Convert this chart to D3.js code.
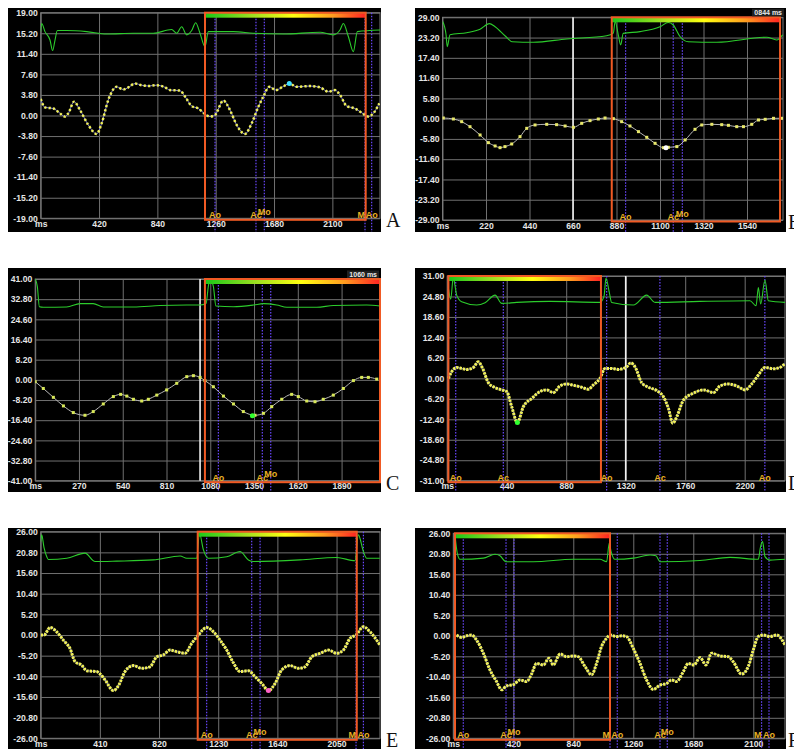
<!DOCTYPE html>
<html>
<head>
<meta charset="utf-8">
<script src="https://cdn.jsdelivr.net/npm/d3@7"></script>
<style>
  body { margin: 0; background: #fff; }
  svg text { font-family: "Liberation Sans", Arial, sans-serif; }
</style>
</head>
<body>
<svg id="fig" width="794" height="749"></svg>
<script>
// 1: DATA
// tick labels
const aYTicks = [19, 15.2, 11.4, 7.6, 3.8, 0, -3.8, -7.6, -11.4, -15.2, -19];
const bYTicks = [29, 23.2, 17.4, 11.6, 5.8, 0, -5.8, -11.6, -17.4, -23.2, -29];
const cYTicks = [41, 32.8, 24.6, 16.4, 8.2, 0, -8.2, -16.4, -24.6, -32.8, -41];
const dYTicks = [31, 24.8, 18.6, 12.4, 6.2, 0, -6.2, -12.4, -18.6, -24.8, -31];
const eYTicks = [26, 20.8, 15.6, 10.4, 5.2, 0, -5.2, -10.4, -15.6, -20.8, -26];
const fYTicks = [26, 20.8, 15.6, 10.4, 5.2, 0, -5.2, -10.4, -15.6, -20.8, -26];

const aXTicks = [0, 420, 840, 1260, 1680, 2100];
const bXTicks = [0, 220, 440, 660, 880, 1100, 1320, 1540];
const cXTicks = [0, 270, 540, 810, 1080, 1350, 1620, 1890];
const dXTicks = [0, 440, 880, 1320, 1760, 2200];
const eXTicks = [0, 410, 820, 1230, 1640, 2050];
const fXTicks = [0, 420, 840, 1260, 1680, 2100];

// strain curves [ms, %]
const aStrain = [[0,3.05],[31,1.5],[91,1.3],[139,0.4],[175,-0.2],[199,0.4],[240,2.55],[283,1.0],[343,-1.75],[403,-3.4],[439,-1.45],[487,2.9],[547,5.3],[595,4.8],[631,5.2],[679,5.9],[727,5.6],[775,5.45],[835,5.6],[895,5.2],[931,4.7],[1003,4.6],[1039,3.5],[1087,1.75],[1135,1.3],[1176,0.4],[1219,-0.2],[1255,0.1],[1315,2.75],[1363,1.0],[1411,-1.75],[1471,-3.4],[1519,-1.45],[1567,1.6],[1603,3.5],[1646,5.3],[1694,4.7],[1742,5.3],[1790,5.9],[1843,5.3],[1939,5.45],[2011,5.2],[2071,4.4],[2119,4.7],[2155,3.8],[2203,1.75],[2263,1.3],[2323,0.3],[2359,-0.2],[2395,0.4],[2438,2.25]];
const bStrain = [[4,0.19],[55,-0.1],[97,-0.86],[139,-2.3],[190,-4.67],[232,-6.87],[266,-7.82],[291,-8.3],[316,-8.0],[350,-7.25],[392,-5.15],[426,-2.77],[468,-1.81],[527,-1.62],[577,-1.72],[620,-2.1],[662,-2.48],[704,-1.34],[746,-0.57],[788,-0.1],[822,0.19],[864,0],[906,-0.86],[948,-2.1],[991,-3.72],[1033,-5.34],[1075,-7.06],[1117,-8.3],[1142,-8.2],[1185,-8.0],[1227,-6.1],[1277,-3.05],[1311,-1.81],[1362,-1.62],[1412,-1.72],[1446,-1.91],[1488,-2.29],[1522,-2.29],[1564,-1.62],[1598,-0.38],[1632,-0.19],[1674,0.1],[1718,0.1]];
const cStrain = [[0,-0.75],[50,-3.5],[112,-7.1],[174,-10.6],[235,-13.3],[307,-14.4],[358,-12.9],[420,-9.8],[482,-6.8],[527,-5.9],[565,-6.6],[606,-7.9],[657,-8.6],[698,-7.9],[750,-6.2],[811,-4.1],[873,-1.4],[935,1.3],[976,1.7],[1017,1.0],[1047,-0.3],[1099,-2.8],[1161,-6.6],[1223,-9.8],[1284,-12.9],[1356,-14.4],[1408,-13.6],[1459,-10.9],[1521,-7.9],[1582,-5.9],[1623,-6.8],[1675,-8.6],[1726,-8.9],[1777,-7.9],[1839,-6.2],[1901,-3.5],[1963,-0.3],[2014,1.0],[2055,1.0],[2107,0.3]];
const dStrain = [[9,0],[33,2.0],[70,3.3],[107,3.0],[144,2.7],[193,3.3],[230,5.0],[262,3.0],[304,-1.3],[354,-2.8],[403,-3.5],[440,-4.0],[477,-8.6],[519,-13.4],[563,-8.6],[625,-6.1],[686,-4.0],[736,-3.5],[785,-4.3],[834,-2.3],[884,-1.7],[933,-2.1],[995,-2.7],[1044,-3.3],[1081,-2.0],[1130,0],[1167,3.0],[1217,3.0],[1266,2.7],[1328,3.5],[1357,4.7],[1389,3.5],[1438,-1.3],[1488,-2.7],[1549,-3.7],[1599,-5.6],[1636,-9.1],[1668,-13.6],[1698,-11.6],[1747,-6.6],[1821,-4.5],[1895,-3.5],[1969,-4.3],[2018,-2.3],[2079,-1.7],[2141,-2.3],[2203,-3.5],[2252,-1.7],[2301,1.0],[2350,3.3],[2412,2.9],[2461,3.3],[2498,4.5]];
const eStrain = [[0,0],[23,0],[65,1.9],[111,0.8],[157,-1.3],[203,-3.4],[238,-6.7],[284,-7.6],[319,-9.0],[388,-9.2],[411,-9.8],[446,-11.3],[504,-14.0],[538,-12.8],[584,-9.2],[642,-7.7],[700,-8.4],[758,-8.0],[804,-5.5],[850,-5.0],[896,-3.8],[942,-4.2],[1000,-4.6],[1046,-2.1],[1093,0],[1150,1.9],[1197,0.8],[1243,-1.3],[1289,-3.8],[1335,-7.0],[1381,-9.2],[1439,-9.0],[1485,-10.5],[1532,-12.2],[1578,-14.0],[1624,-12.2],[1670,-8.8],[1728,-7.7],[1786,-8.4],[1832,-8.0],[1878,-5.5],[1936,-4.6],[1994,-3.8],[2051,-4.6],[2097,-3.8],[2144,-0.8],[2185,0],[2236,2.1],[2282,0.8],[2350,-2.5]];
const fStrain = [[23,0.2],[58,-0.4],[93,0],[128,0.2],[163,-1.1],[210,-4.4],[257,-8.7],[303,-11.6],[338,-13.7],[373,-12.7],[420,-12.4],[467,-11.2],[513,-11.6],[548,-9.7],[583,-7.0],[630,-7.4],[670,-5.7],[700,-7.4],[747,-4.6],[793,-5.3],[840,-5.1],[875,-5.3],[922,-7.8],[968,-9.9],[1003,-7.0],[1038,-2.7],[1073,-0.6],[1101,0.2],[1143,-0.2],[1178,0],[1213,-0.2],[1260,-3.2],[1307,-7.0],[1353,-11.2],[1400,-13.6],[1447,-12.5],[1493,-12.1],[1528,-11.2],[1563,-11.6],[1610,-9.1],[1645,-7.0],[1685,-7.4],[1727,-5.5],[1769,-7.4],[1808,-4.4],[1867,-5.1],[1925,-5.3],[1960,-6.6],[2018,-9.7],[2065,-7.8],[2100,-3.6],[2135,-0.2],[2170,0.2],[2217,-0.2],[2263,0.2],[2322,-2.3]];

// ECG traces (drawn on the strain scale, top of each plot)
const aEcg = [[0,15.5],[7,17.0],[31,15.5],[67,13.95],[86,12.0],[103,13.95],[120,15.7],[187,15.7],[331,15.5],[475,15.05],[667,15.2],[811,15.2],[943,15.9],[979,15.2],[1015,16.4],[1051,14.9],[1087,15.7],[1116,17.15],[1147,15.2],[1183,12.7],[1207,15.5],[1387,15.5],[1531,15.2],[1747,15.05],[2011,15.4],[2107,14.9],[2155,15.8],[2179,17.0],[2215,14.6],[2251,11.8],[2280,15.5],[2443,15.8]];
const bEcg = [[1,27.8],[18,24.0],[24,20.6],[38,24.0],[122,24.6],[190,25.6],[237,27.2],[266,26.3],[320,23.5],[353,22.0],[459,21.85],[628,22.8],[830,23.7],[864,24.5],[873,27.8],[889,24.0],[901,21.1],[914,24.4],[999,24.9],[1100,26.3],[1142,27.5],[1167,26.8],[1201,23.5],[1243,22.0],[1387,21.85],[1640,23.3],[1690,22.5],[1720,24.0]];
const cEcg = [[0,41.0],[13,38],[26,29.7],[50,29.5],[194,29.6],[277,31.0],[358,31.0],[420,29.6],[606,29.6],[770,30.2],[935,30.4],[1017,30.4],[1054,31.0],[1068,38],[1078,41],[1099,38],[1115,30.0],[1222,29.7],[1346,30.4],[1408,31.0],[1490,30.4],[1552,29.5],[1737,29.5],[1840,30.2],[2045,30.4],[2127,30.0]];
const dEcg = [[9,27.3],[26,24.0],[45,30.6],[58,28.0],[70,25.2],[107,23.2],[218,22.2],[280,22.9],[354,25.2],[403,22.7],[514,23.0],[760,23.3],[1130,23.0],[1160,25],[1174,30.3],[1199,26],[1216,23.0],[1377,22.2],[1475,25.2],[1537,23.0],[1870,23.3],[2239,23.5],[2284,22.0],[2301,27.5],[2318,22.5],[2350,29.8],[2375,23.5],[2498,23.0]];
const eEcg = [[0,23.5],[7,25.2],[23,22],[42,19.7],[53,19.0],[180,19.3],[307,20.6],[377,18.5],[527,18.6],[781,18.9],[966,19.9],[1012,19.3],[1081,19.3],[1100,25.6],[1127,21.5],[1162,19.3],[1289,19.7],[1381,21.0],[1439,18.9],[1474,18.5],[1797,18.9],[2051,19.5],[2178,18.7],[2201,25.2],[2236,21],[2259,19.3],[2350,19.3]];
const fEcg = [[12,25.6],[28,20.9],[47,19.4],[210,19.7],[292,20.7],[327,20.3],[369,18.8],[560,18.8],[840,19.4],[1027,19.4],[1073,18.8],[1092,23.5],[1104,21.5],[1132,19.4],[1260,19.7],[1377,20.5],[1419,20.3],[1447,18.8],[1727,19.1],[1937,19.9],[2135,19.4],[2151,22.6],[2165,23.9],[2182,20.1],[2217,19.2],[2322,19.4]];

// valve events [ms, label]
const aEvents = [[1255,"Ao"],[1550,"Ac"],[1610,"Mo"],[2335,"M"],[2383,"Ao"]];
const bEvents = [[926,"Ao"],[1167,"Ac"],[1213,"Mo"]];
const cEvents = [[1130,"Ao"],[1401,"Ac"],[1453,"Mo"]];
const dEvents = [[63,"Ao"],[415,"Ac"],[1179,"Ao"],[1573,"Ac"],[2349,"Ao"]];
const eEvents = [[1150,"Ao"],[1462,"Ac"],[1520,"Mo"],[2185,"M"],[2236,"Ao"]];
const fEvents = [[70,"Ao"],[369,"Ac"],[425,"Mo"],[1097,"M"],[1148,"Ao"],[1447,"Ac"],[1498,"Mo"],[2158,"M"],[2210,"Ao"]];

// selected cycle [start ms, end ms], cursor line, highlighted point, time readout
const aCycle = [1183, 2340], bCycle = [856, 1707], cCycle = [1047, 2140], dCycle = [9, 1137], eCycle = [1088, 2190], fCycle = [12, 1097];
const bCursor = 660, cCursor = 1017, dCursor = 1320;
const aMark = [1790, 5.9], bMark = [1130, -8.3], cMark = [1340, -14.6], dMark = [519, -13.4], eMark = [1578, -14.0];
const bReadout = "0844 ms", cReadout = "1060 ms";

// 2: LAYOUT (pixel frames of each panel)
const panels = [
  { letter: "A", bg: [8, 8, 381, 232],   x0: 40.7,  x1: 380, xMax: 2443, y0: 12.7,  y1: 218.3, lx: 386,
    yTicks: aYTicks, xTicks: aXTicks, strain: aStrain, ecg: aEcg, events: aEvents, cycle: aCycle,
    mark: aMark, markColor: "#40e0ff", dense: true },
  { letter: "B", bg: [415, 8, 786, 232], x0: 442.5, x1: 783, xMax: 1722, y0: 17.3,  y1: 220,   lx: 788,
    yTicks: bYTicks, xTicks: bXTicks, strain: bStrain, ecg: bEcg, events: bEvents, cycle: bCycle,
    cursor: bCursor, mark: bMark, markColor: "#ffffff", readout: bReadout, dense: false },
  { letter: "C", bg: [8, 268, 381, 492], x0: 35.2,  x1: 380, xMax: 2127, y0: 279,   y1: 480.7, lx: 386,
    yTicks: cYTicks, xTicks: cXTicks, strain: cStrain, ecg: cEcg, events: cEvents, cycle: cCycle,
    cursor: cCursor, mark: cMark, markColor: "#30ff30", readout: cReadout, dense: false },
  { letter: "D", bg: [415, 268, 786, 492], x0: 447.2, x1: 785, xMax: 2498, y0: 276, y1: 480.7, lx: 788,
    yTicks: dYTicks, xTicks: dXTicks, strain: dStrain, ecg: dEcg, events: dEvents, cycle: dCycle,
    cursor: dCursor, mark: dMark, markColor: "#30ff30", dense: true },
  { letter: "E", bg: [8, 528, 381, 749], x0: 40.7,  x1: 380, xMax: 2351, y0: 531.7, y1: 738.3, lx: 386,
    yTicks: eYTicks, xTicks: eXTicks, strain: eStrain, ecg: eEcg, events: eEvents, cycle: eCycle,
    mark: eMark, markColor: "#ff60c8", dense: true },
  { letter: "F", bg: [415, 528, 786, 749], x0: 453.3, x1: 785, xMax: 2322, y0: 533.3, y1: 738.3, lx: 788,
    yTicks: fYTicks, xTicks: fXTicks, strain: fStrain, ecg: fEcg, events: fEvents, cycle: fCycle,
    dense: true }
];

const svg = d3.select("#fig");

// cycle colour bar: green -> yellow -> red
const grad = svg.append("defs").append("linearGradient").attr("id", "cycleGrad");
[["0%", "#18c818"], ["30%", "#a0e020"], ["55%", "#ffff10"], ["80%", "#ff9a20"], ["100%", "#ff2222"]]
  .forEach(([o, c]) => grad.append("stop").attr("offset", o).attr("stop-color", c));

panels.forEach((p, i) => {
  const g = svg.append("g");
  const x = d3.scaleLinear().domain([0, p.xMax]).range([p.x0, p.x1]);
  const yMax = p.yTicks[0];
  const y = d3.scaleLinear().domain([-yMax, yMax]).range([p.y1, p.y0]);

  g.append("rect")
    .attr("x", p.bg[0]).attr("y", p.bg[1])
    .attr("width", p.bg[2] - p.bg[0]).attr("height", p.bg[3] - p.bg[1])
    .attr("fill", "#000");

  // clip for the traces
  svg.select("defs").append("clipPath").attr("id", "clip" + i)
    .append("rect").attr("x", p.x0).attr("y", p.y0 - 2)
    .attr("width", p.x1 - p.x0).attr("height", p.y1 - p.y0 + 4);

  // 3: AXES + GRID
  const yAxis = g.append("g")
    .attr("transform", `translate(${p.x0},0)`)
    .call(d3.axisLeft(y).tickValues(p.yTicks).tickSize(-(p.x1 - p.x0)).tickPadding(3)
      .tickFormat(d => d.toFixed(2)));
  const xAxis = g.append("g")
    .attr("transform", `translate(0,${p.y1})`)
    .call(d3.axisBottom(x).tickValues(p.xTicks).tickSize(p.y1 - p.y0).tickPadding(-(p.y1 - p.y0) + 3)
      .tickFormat(d => d === 0 ? "ms" : d));
  xAxis.selectAll(".tick line").attr("y1", 0).attr("y2", -(p.y1 - p.y0));
  [yAxis, xAxis].forEach(a => {
    a.select(".domain").remove();
    a.selectAll(".tick line").attr("stroke", "#707070").attr("stroke-width", 1);
    a.selectAll("text").attr("fill", "#e6e6e6").attr("font-weight", "bold").attr("font-size", 8.6);
  });
  xAxis.selectAll("text").attr("dy", "0.71em").attr("y", 2.5);

  g.append("rect")
    .attr("x", p.x0).attr("y", p.y0).attr("width", p.x1 - p.x0).attr("height", p.y1 - p.y0)
    .attr("fill", "none").attr("stroke", "#7a7a7a").attr("stroke-width", 1);

  // cursor line
  if (p.cursor !== undefined) {
    g.append("line")
      .attr("x1", x(p.cursor)).attr("x2", x(p.cursor))
      .attr("y1", p.y0).attr("y2", p.y1)
      .attr("stroke", "#f2f2f2").attr("stroke-width", 1.6);
  }

  // event markers
  g.selectAll(".ev").data(p.events).enter().append("line")
    .attr("x1", d => x(d[0])).attr("x2", d => x(d[0]))
    .attr("y1", p.y0).attr("y2", p.bg[3])
    .attr("stroke", "#6a48ff").attr("stroke-width", 1.2)
    .attr("stroke-dasharray", "1.5,1.5");

  // 4: TRACES
  const line = d3.line().x(d => x(d[0])).y(d => y(d[1])).curve(d3.curveMonotoneX);
  const traces = g.append("g").attr("clip-path", `url(#clip${i})`);

  traces.append("path").datum(p.ecg)
    .attr("d", line).attr("fill", "none")
    .attr("stroke", "#2ccc2c").attr("stroke-width", 1.1);

  if (p.dense) {
    traces.append("path").datum(p.strain)
      .attr("d", line).attr("fill", "none")
      .attr("stroke", "#8c8cd8").attr("stroke-width", 1);
    traces.append("path").datum(p.strain)
      .attr("d", line).attr("fill", "none")
      .attr("stroke", "#f0f05a")
      .attr("stroke-width", i === 0 ? 2.5 : 3)
      .attr("stroke-dasharray", i === 0 ? "2.2,2.2" : "2.4,1");
  } else {
    traces.append("path").datum(p.strain)
      .attr("d", line).attr("fill", "none")
      .attr("stroke", "#b8b8b8").attr("stroke-width", 1);
    traces.selectAll(".dot").data(p.strain).enter().append("rect")
      .attr("x", d => x(d[0]) - 1.5).attr("y", d => y(d[1]) - 1.5)
      .attr("width", 3).attr("height", 3)
      .attr("fill", i === 2 ? "#d8e858" : "#e8e86a");
  }

  if (p.mark) {
    traces.append("circle")
      .attr("cx", x(p.mark[0])).attr("cy", y(p.mark[1])).attr("r", 2.5)
      .attr("fill", p.markColor);
  }

  // 5: SELECTED CYCLE BOX
  const cx0 = x(p.cycle[0]), cx1 = Math.min(x(p.cycle[1]), p.x1);
  g.append("rect")
    .attr("x", cx0).attr("y", p.y0 + 0.5)
    .attr("width", cx1 - cx0).attr("height", 4.5)
    .attr("fill", "url(#cycleGrad)");
  g.append("rect")
    .attr("x", cx0).attr("y", p.y0)
    .attr("width", cx1 - cx0).attr("height", p.y1 - p.y0 + 1.5)
    .attr("fill", "none").attr("stroke", "#f05a24").attr("stroke-width", 2);

  // event labels
  g.selectAll(".evl").data(p.events).enter().append("text")
    .attr("x", d => x(d[0]))
    .attr("y", d => d[1] === "Mo" ? p.y1 - 3.5 : p.y1)
    .attr("text-anchor", d => d[1] === "M" ? "end" : "middle")
    .attr("fill", "#e8b024").attr("font-weight", "bold").attr("font-size", 9)
    .text(d => d[1]);

  // time readout
  if (p.readout) {
    g.append("rect")
      .attr("x", p.bg[2] - 34).attr("y", p.y0 - 8.5).attr("width", 32).attr("height", 7.5)
      .attr("fill", "#202020");
    g.append("text")
      .attr("x", p.bg[2] - 4).attr("y", p.y0 - 2.3)
      .attr("text-anchor", "end").attr("fill", "#e8e8e8")
      .attr("font-weight", "bold").attr("font-size", 7)
      .text(p.readout);
  }

  // 6: PANEL LETTER
  svg.append("text")
    .attr("x", p.lx).attr("y", Math.min(p.y1 + 9, 747))
    .attr("fill", "#111").attr("font-size", 20)
    .style("font-family", "'Liberation Serif','DejaVu Serif',serif")
    .text(p.letter);
});
</script>
</body>
</html>
